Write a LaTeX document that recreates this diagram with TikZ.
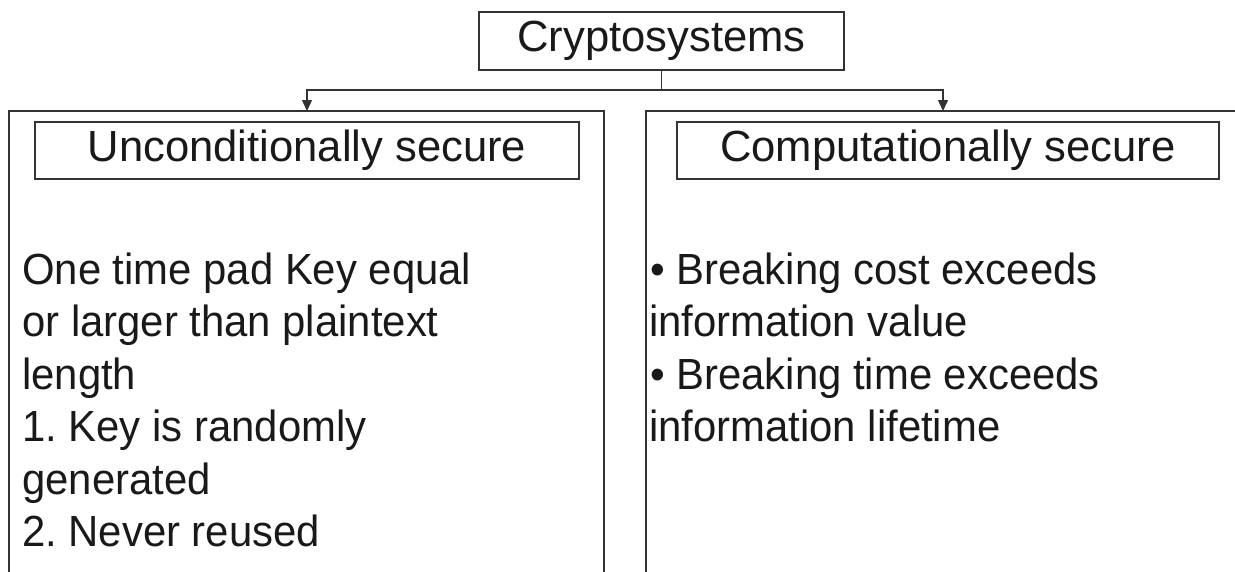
\documentclass[tikz,border=0pt]{standalone}
\usepackage{fontspec}
\setmainfont{Liberation Sans}
\newfontfamily\narrowsans{Liberation Sans}[FakeStretch=0.96]
\usetikzlibrary{arrows.meta}
\newcommand\bigtext{\fontsize{43.6}{52.5}\selectfont}
\frenchspacing
\begin{document}
\begin{tikzpicture}[x=1pt,y=-1pt,
  frame/.style={draw=black!80, line width=1.4pt},
  titlebox/.style={draw=black!80, line width=1.4pt, inner sep=0pt,
    font=\bigtext, text=black!90},
  body/.style={anchor=base west, inner sep=0pt, font=\narrowsans\bigtext, text=black!90},
  link/.style={draw=black!80, line width=1.4pt,
    -{Triangle[length=11pt,width=10pt]}}]
\useasboundingbox (0,0) rectangle (1235,571);
\clip (0,0) rectangle (1235,571);

% root
\node[titlebox, minimum width=365pt, minimum height=58pt] (crypto) at (661.5,41) {Cryptosystems};

% two open panels
\draw[frame] (9,600) |- (604,111) -- (604,600);
\draw[frame] (646,600) |- (1240,111);
\coordinate (ltop) at (307,111);
\coordinate (rtop) at (943,111);

% panel headings
\node[titlebox, minimum width=544pt, minimum height=57pt] (uncond) at (307,150.5) {Unconditionally secure};
\node[titlebox, minimum width=542pt, minimum height=57pt] (comput) at (948,150.5) {Computationally secure};

% connectors
\coordinate (fork) at (661.5,90);
\draw[frame] (crypto.south) -- (fork);
\draw[link] (fork) -| (ltop);
\draw[link] (fork) -| (rtop);

% left panel text
\node[body] (l1) at (22,284) {One time pad Key equal};
\node[body] (l2) at (22,336.5) {or larger than plaintext};
\node[body] (l3) at (22,389) {length};
\node[body] (l4) at (22,441.5) {1. Key is randomly};
\node[body] (l5) at (22,494) {generated};
\node[body] (l6) at (22,546.5) {2. Never reused};

% right panel text
\node[body] (r1) at (650,284) {• Breaking cost exceeds};
\node[body] (r2) at (649,336.5) {information value};
\node[body] (r3) at (650,389) {• Breaking time exceeds};
\node[body] (r4) at (649,441.5) {information lifetime};
\end{tikzpicture}
\end{document}
